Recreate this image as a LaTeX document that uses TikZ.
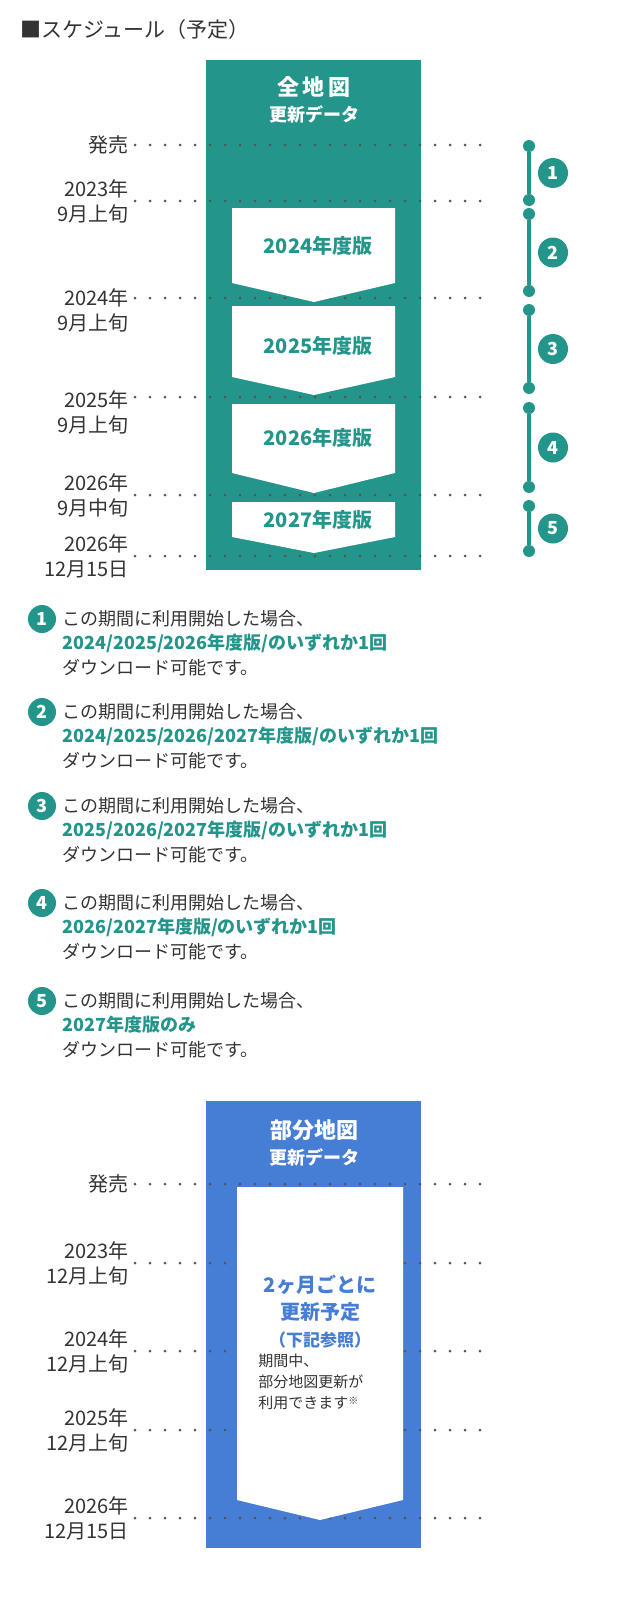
\documentclass[tikz,border=0pt]{standalone}
\usepackage{fontspec}
\setmainfont{Noto Sans CJK JP}
\usetikzlibrary{positioning,calc}
\definecolor{teal2}{HTML}{23958A}
\definecolor{blue2}{HTML}{467DD5}
\definecolor{dotgray}{HTML}{555555}
\definecolor{txtgray}{HTML}{333333}
\begin{document}
\begin{tikzpicture}[x=0.5pt,y=-0.5pt,
    guide/.style={dotgray,line width=1.5pt,line cap=round,dash pattern=on 0pt off 7.5pt},
    datelabel/.style={anchor=east,align=right,font=\fontsize{10}{12.5}\selectfont,text=txtgray,inner sep=0},
    verlabel/.style={font=\bfseries\fontsize{10}{11}\selectfont,text=teal2},
    stepnum/.style={circle,fill=teal2,text=white,minimum size=15pt,inner sep=0,font=\bfseries\fontsize{9}{9}\selectfont},
    stepdot/.style={circle,fill=teal2,minimum size=6pt,inner sep=0},
    notetext/.style={anchor=west,align=left,font=\fontsize{9}{12}\selectfont,text=txtgray,inner sep=0}]
  \useasboundingbox (0,0) rectangle (640,1600);

  % title
  \node[anchor=west,inner sep=0,font=\fontsize{10.5}{10.5}\selectfont,text=txtgray] (title) at (20,30) {■スケジュール（予定）};

  % full map panel
  \fill[teal2] (206,60) rectangle (421,570);
  \node[text=white,font=\bfseries\fontsize{11}{11}\selectfont] (fullhead) at (314,87) {全\,地\,図};
  \node[text=white,font=\bfseries\fontsize{9}{9}\selectfont,below=-3pt of fullhead] (fullsub) {更新データ};

  % guide lines
  \foreach \y/\name in {145/g1,201/g2,298/g3,397/g4,495/g5,556/g6}
    \draw[guide] (135,\y) coordinate (\name a) -- (492,\y) coordinate (\name b);

  % version chevrons         top  sides tip
  \foreach \t/\s/\p in {208/283/302,306/377/395,404/473/493,502/537/553}
    \fill[white] (232,\t) -- (395,\t) -- (395,\s) -- (314,\p) -- (232,\s) -- cycle;
  \node[verlabel] (v24) at (318,246) {2024年度版};
  \node[verlabel] (v25) at (318,346) {2025年度版};
  \node[verlabel] (v26) at (318,438) {2026年度版};
  \node[verlabel] (v27) at (318,520) {2027年度版};

  % dates
  \node[datelabel] (d0) at ($(g1a)+(-6,0)$) {発売};
  \node[datelabel] (d1) at ($(g2a)+(-6,0)$) {2023年\\9月上旬};
  \node[datelabel] (d2) at ($(g3a)+(-6,12)$) {2024年\\9月上旬};
  \node[datelabel] (d3) at ($(g4a)+(-6,15)$) {2025年\\9月上旬};
  \node[datelabel] (d4) at ($(g5a)+(-6,0)$) {2026年\\9月中旬};
  \node[datelabel] (d5) at ($(g6a)+(-6,0)$) {2026年\\12月15日};

  % periods on the right
  \foreach \a/\b/\n in {146/200/1,214/291/2,310/388/3,408/487/4,506/551/5}{
    \node[stepdot] (p\n t) at (529,\a) {};
    \node[stepdot] (p\n b) at (529,\b) {};
    \draw[teal2,line width=2pt] (p\n t) -- (p\n b);
    \node[stepnum] (n\n) at (553,{(\a+\b)/2}) {\n};
  }

  % notes
  \foreach \y/\n/\v in {619/1/{2024/2025/2026年度版/のいずれか1回},
                        712/2/{2024/2025/2026/2027年度版/のいずれか1回},
                        806/3/{2025/2026/2027年度版/のいずれか1回},
                        903/4/{2026/2027年度版/のいずれか1回},
                        1001/5/{2027年度版のみ}}{
    \node[stepnum,minimum size=14pt] (m\n) at (42,\y) {\n};
    \node[notetext] (l\n a) at (62,\y) {この期間に利用開始した場合、};
    \node[notetext,text=teal2,font=\bfseries\fontsize{9}{12}\selectfont] (l\n b) at (62,\y+24) {\v};
    \node[notetext] (l\n c) at (62,\y+49) {ダウンロード可能です。};
  }

  % partial map panel
  \fill[blue2] (206,1101) rectangle (421,1548);
  \node[text=white,font=\bfseries\fontsize{11}{11}\selectfont] (parthead) at (314,1130) {部分地図};
  \node[text=white,font=\bfseries\fontsize{9}{9}\selectfont,below=-3pt of parthead] (partsub) {更新データ};

  \foreach \y/\name in {1184/h1,1263/h2,1351/h3,1430/h4,1518/h5}
    \draw[guide] (135,\y) coordinate (\name a) -- (492,\y) coordinate (\name b);

  \fill[white] (237,1187) -- (403,1187) -- (403,1500) -- (320,1520) -- (237,1500) -- cycle;
  \node[text=blue2,align=center,font=\bfseries\fontsize{10}{13.5}\selectfont] (every) at (320,1298) {2ヶ月ごとに\\更新予定};
  \node[text=blue2,font=\bfseries\fontsize{8.5}{8.5}\selectfont,below=-2pt of every] (ref) {（下記参照）};
  \node[notetext,anchor=north west,font=\fontsize{7.5}{10.5}\selectfont] (avail) at (258,1353) {期間中、\\部分地図更新が\\利用できます\raisebox{2pt}{\fontsize{5}{5}\selectfont ※}};

  \node[datelabel] (e0) at ($(h1a)+(-6,0)$) {発売};
  \node[datelabel] (e1) at ($(h2a)+(-6,0)$) {2023年\\12月上旬};
  \node[datelabel] (e2) at ($(h3a)+(-6,0)$) {2024年\\12月上旬};
  \node[datelabel] (e3) at ($(h4a)+(-6,0)$) {2025年\\12月上旬};
  \node[datelabel] (e4) at ($(h5a)+(-6,0)$) {2026年\\12月15日};
\end{tikzpicture}
\end{document}
